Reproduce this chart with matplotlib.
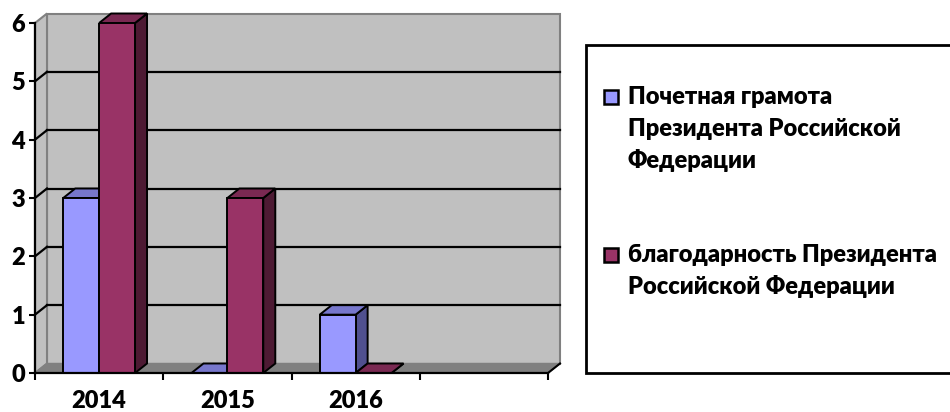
import matplotlib
matplotlib.use("Agg")
import matplotlib.pyplot as plt
from matplotlib.patches import Polygon, Rectangle

plt.rcParams['font.family'] = ['Lato', 'DejaVu Sans']

categories = ['2014', '2015', '2016', '']
series_names = ['Почетная грамота\nПрезидента Российской\nФедерации',
                'благодарность Президента\nРоссийской Федерации']
gramota = [3, 0, 1, None]
blagodarnost = [6, 3, 0, None]
yticks = [0, 1, 2, 3, 4, 5, 6]

front_colors = ['#9999FF', '#993366']
top_colors = ['#7777CC', '#7A2952']
side_colors = ['#50508F', '#4D1A33']

FS = 17
FW = 'heavy'
W, H = 950, 412
fig = plt.figure(figsize=(W / 100, H / 100), dpi=100)
ax = fig.add_axes([35 / W, 39 / H, 513 / W, 350 / H])
ncat = len(categories)
ymax = yticks[-1]
ax.set_xlim(0, ncat)
ax.set_ylim(0, ymax)

# depth offset in data units
dx = 12 / (513 / ncat)
dy = 9.5 / (350 / ymax)

wall_gray = '#C0C0C0'
edge_gray = '#808080'
ax.add_patch(Polygon([(dx, dy), (ncat + dx, dy), (ncat + dx, ymax + dy), (dx, ymax + dy)],
                     closed=True, fc=wall_gray, ec=edge_gray, lw=1.5, clip_on=False, zorder=1))
ax.add_patch(Polygon([(0, 0), (dx, dy), (dx, ymax + dy), (0, ymax)],
                     closed=True, fc=wall_gray, ec=edge_gray, lw=1.5, clip_on=False, zorder=1))
ax.add_patch(Polygon([(0, 0), (ncat, 0), (ncat + dx, dy), (dx, dy)],
                     closed=True, fc=edge_gray, ec=edge_gray, lw=1, clip_on=False, zorder=1.5))
ax.plot([ncat, ncat + dx], [0, dy], color='black', lw=1.5, clip_on=False, zorder=1.6)
for v in yticks[1:-1]:
    ax.plot([dx, ncat + dx], [v + dy, v + dy], color='black', lw=1.6, clip_on=False, zorder=2)
    ax.plot([0, dx], [v, v + dy], color='black', lw=1.6, clip_on=False, zorder=2)

bw = 0.28
z = 3
for ci in range(ncat):
    for si, vals in enumerate([gramota, blagodarnost]):
        v = vals[ci]
        if v is None:
            continue
        x0 = ci + 0.5 - bw + si * bw
        x1 = x0 + bw
        ax.bar(x0, v, width=bw, align='edge', color=front_colors[si], edgecolor='black',
               lw=1.4, zorder=z + 0.2)
        ax.add_patch(Polygon([(x1, 0), (x1 + dx, dy), (x1 + dx, v + dy), (x1, v)], closed=True,
                             fc=side_colors[si], ec='black', lw=1.4, zorder=z, clip_on=False))
        ax.add_patch(Polygon([(x0, v), (x1, v), (x1 + dx, v + dy), (x0 + dx, v + dy)], closed=True,
                             fc=top_colors[si], ec='black', lw=1.4, zorder=z + 0.1, clip_on=False))
        z += 1

for s in ['top', 'right']:
    ax.spines[s].set_visible(False)
for s in ['left', 'bottom']:
    ax.spines[s].set_linewidth(1.6)
    ax.spines[s].set_zorder(50)
ax.set_facecolor('none')

ax.set_yticks(yticks)
ax.set_yticklabels([str(t) for t in yticks], fontsize=FS, fontweight=FW)
ax.tick_params(axis='y', length=4, width=1.5, pad=3)
ax.set_xticks(range(ncat + 1))
ax.set_xticklabels([])
ax.set_xticks([i + 0.5 for i in range(ncat)], minor=True)
ax.set_xticklabels(categories, minor=True, fontsize=FS, fontweight=FW)
ax.tick_params(axis='x', which='major', length=5, width=1.5)
ax.tick_params(axis='x', which='minor', length=0, pad=12)

fig.patches.append(Rectangle((586 / W, 1 - 373 / H), 380 / W, (373 - 45) / H,
                             transform=fig.transFigure, fc='white', ec='black', lw=2))
entry_y = [97, 255]
step = 32
for si, name in enumerate(series_names):
    yc = entry_y[si]
    fig.patches.append(Rectangle((604 / W, 1 - (yc + 7) / H), 14 / W, 14 / H,
                                 transform=fig.transFigure, fc=front_colors[si], ec='black', lw=1.8))
    for li, line in enumerate(name.split('\n')):
        fig.text(628 / W, 1 - (yc + li * step) / H, line, fontsize=FS, fontweight=FW,
                 va='center', ha='left')

fig.savefig('out.png', dpi=100)
